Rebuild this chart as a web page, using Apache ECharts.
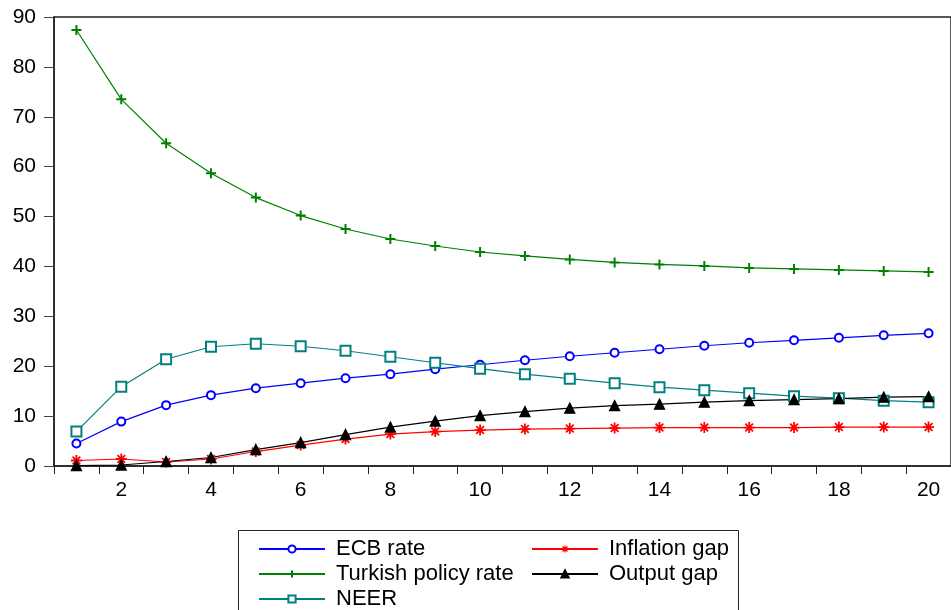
<!DOCTYPE html>
<html>
<head>
<meta charset="utf-8">
<script src="https://cdn.jsdelivr.net/npm/echarts@6/dist/echarts.min.js"></script>
<style>
html, body { margin: 0; padding: 0; background: #fff; }
#main { width: 951px; height: 610px; }
</style>
</head>
<body>
<div id="main"></div>
<script>
// 横轴期数
const periods = ['1','2','3','4','5','6','7','8','9','10','11','12','13','14','15','16','17','18','19','20'];
// 各序列数据
const ecbRate = [4.5, 8.9, 12.2, 14.2, 15.6, 16.6, 17.6, 18.4, 19.4, 20.3, 21.2, 22.0, 22.7, 23.4, 24.1, 24.7, 25.2, 25.7, 26.2, 26.6];
const turkishRate = [87.4, 73.5, 64.7, 58.7, 53.8, 50.2, 47.5, 45.5, 44.1, 42.9, 42.1, 41.4, 40.8, 40.4, 40.1, 39.7, 39.5, 39.3, 39.1, 38.9];
const neer = [6.9, 15.9, 21.4, 23.9, 24.5, 24.0, 23.1, 21.9, 20.7, 19.5, 18.4, 17.5, 16.6, 15.8, 15.2, 14.6, 14.0, 13.6, 13.1, 12.8];
const inflationGap = [1.1, 1.4, 0.8, 1.4, 2.9, 4.2, 5.4, 6.4, 6.9, 7.2, 7.4, 7.5, 7.6, 7.7, 7.7, 7.7, 7.7, 7.8, 7.8, 7.8];
const outputGap = [0.1, 0.2, 0.9, 1.7, 3.3, 4.7, 6.3, 7.8, 9.0, 10.1, 10.9, 11.6, 12.1, 12.4, 12.8, 13.1, 13.3, 13.5, 13.8, 13.9];

const FONT = '"Liberation Sans", Arial, sans-serif';
const plusPath = 'path://M5,0V10M0,5H10';
const starPath = 'path://M5,0V10M0,5H10M1.5,1.5L8.5,8.5M8.5,1.5L1.5,8.5';

const chart = echarts.init(document.getElementById('main'));

function mkSeries(name, data, color, symbol, size, extra) {
    return Object.assign({
        name: name,
        type: 'line',
        data: data,
        symbol: symbol,
        symbolSize: size,
        showAllSymbol: true,
        lineStyle: { color: color, width: 1.2 },
        itemStyle: { color: color, borderColor: color, borderWidth: 1.3 },
        emphasis: { disabled: true },
        animation: false
    }, extra || {});
}

const legendText = { fontFamily: FONT, fontSize: 22, color: '#000', lineHeight: 20, padding: [0, 0, 0, 6] };

const option = {
    backgroundColor: '#fff',
    grid: {
        left: 54, top: 17, right: -8, bottom: 144,
        show: true, borderColor: '#222', borderWidth: 1.5
    },
    graphic: [{
        type: 'rect',
        shape: { x: 238.5, y: 530.5, width: 500, height: 100 },
        style: { fill: 'none', stroke: '#222', lineWidth: 1 }
    }],
    legend: [
        {
            data: ['ECB rate', 'Turkish policy rate', 'NEER'],
            orient: 'vertical', left: 253, top: 533, height: 120,
            itemWidth: 66, itemHeight: 9, itemGap: 3,
            textStyle: legendText
        },
        {
            data: [
                { name: 'Inflation gap', itemStyle: { borderWidth: 1.2 } },
                'Output gap'
            ],
            orient: 'vertical', left: 526, top: 533, height: 120,
            itemWidth: 66, itemHeight: 9, itemGap: 3,
            textStyle: legendText
        }
    ],
    xAxis: {
        type: 'category',
        data: periods,
        boundaryGap: true,
        axisLine: { lineStyle: { color: '#222', width: 1.5 } },
        axisTick: { show: true, interval: 0, length: 8, lineStyle: { color: '#222' } },
        axisLabel: {
            interval: function (i) { return i % 2 === 1; },
            fontFamily: FONT, fontSize: 21, color: '#000', margin: 14
        },
        splitLine: { show: false }
    },
    yAxis: {
        type: 'value',
        min: 0, max: 90, interval: 10,
        axisLine: { show: true, lineStyle: { color: '#222', width: 1.5 } },
        axisTick: { show: true, length: 10, lineStyle: { color: '#444' } },
        axisLabel: { fontFamily: FONT, fontSize: 21, color: '#000', margin: 18 },
        splitLine: { show: false }
    },
    series: [
        mkSeries('ECB rate', ecbRate, '#0000ff', 'emptyCircle', 8),
        mkSeries('Turkish policy rate', turkishRate, '#008000', plusPath, 10, { itemStyle: { color: '#008000', borderColor: '#008000', borderWidth: 2 } }),
        mkSeries('NEER', neer, '#008080', 'emptyRect', 10),
        mkSeries('Inflation gap', inflationGap, '#ff0000', starPath, 11, { itemStyle: { color: '#ff0000', borderColor: '#ff0000', borderWidth: 1.8 } }),
        mkSeries('Output gap', outputGap, '#000000', 'triangle', 10)
    ]
};

chart.setOption(option);
</script>
</body>
</html>
